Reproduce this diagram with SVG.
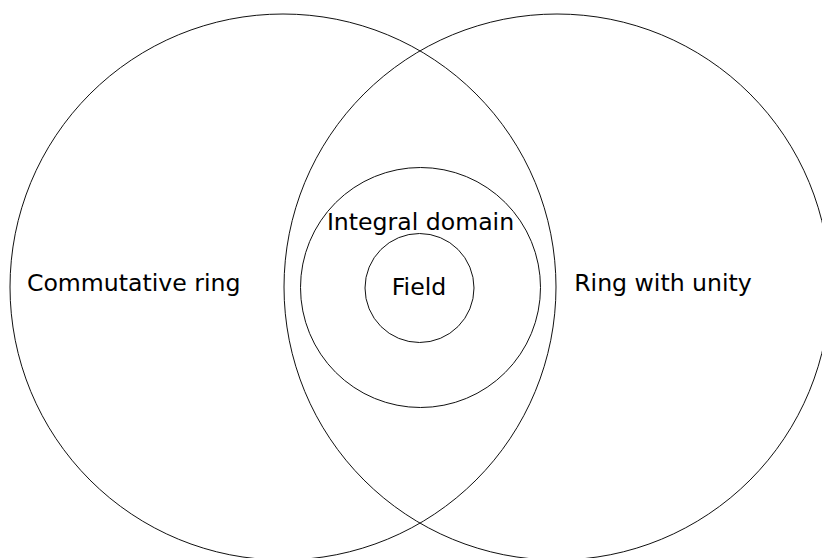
<svg xmlns="http://www.w3.org/2000/svg" width="822" height="558" viewBox="0 0 822 558">
<style>
.c{fill:none;stroke:#111;stroke-width:1}
.t{font-family:"DejaVu Sans",sans-serif;font-size:23.6px;fill:#000;text-anchor:middle}
</style>
<rect width="822" height="558" fill="#fff"/>
<g id="commutative-ring"><circle class="c" cx="283" cy="287" r="273"/><text class="t" x="133.7" y="291">Commutative ring</text></g>
<g id="ring-with-unity"><circle class="c" cx="557" cy="287" r="273"/><text class="t" x="663" y="291">Ring with unity</text></g>
<g id="integral-domain"><circle class="c" cx="420.5" cy="287.5" r="120"/><text class="t" x="420.5" y="230">Integral domain</text></g>
<g id="field"><circle class="c" cx="419.5" cy="288" r="54.5"/><text class="t" x="419" y="295">Field</text></g>
<g id="connectors"></g>
</svg>
